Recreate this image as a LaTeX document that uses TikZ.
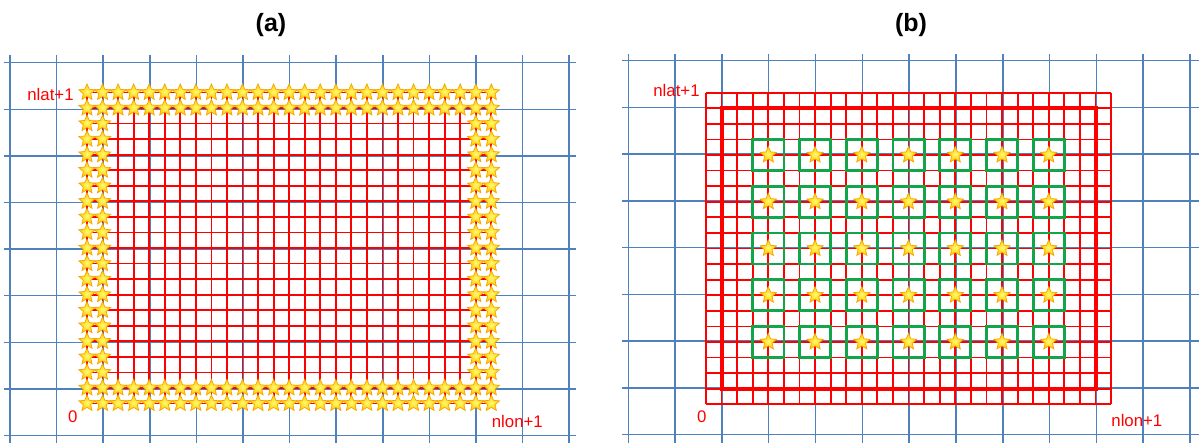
\documentclass[tikz,border=0pt]{standalone}
\usepackage{fontspec}
\setmainfont{Liberation Sans}
\usetikzlibrary{shapes.geometric}
\definecolor{gblue}{RGB}{79,129,189}
\definecolor{gred}{RGB}{255,0,0}
\definecolor{ggreen}{RGB}{20,165,75}
\definecolor{starin}{RGB}{255,250,110}
\definecolor{starout}{RGB}{255,200,0}
\definecolor{starline}{RGB}{245,165,0}
\begin{document}
\begin{tikzpicture}[x=0.5pt,y=-0.5pt,
 bluel/.style={gblue,line width=0.75pt},
 redl/.style={gred,line width=0.9pt},
 redthick/.style={gred,line width=2pt},
 greenbox/.style={ggreen,line width=1.4pt},
 gstar/.style={star,star points=5,star point ratio=2.2,minimum size=8.6pt,inner sep=0pt,draw=starline,line width=0.35pt,inner color=starin,outer color=starout},
 lbl/.style={text=gred,font=\fontsize{8.4}{10}\selectfont,inner sep=0pt},
 ttl/.style={font=\fontsize{12.5}{15}\selectfont\bfseries,inner sep=0pt}]
\useasboundingbox (0,0) rectangle (1199,443);

% ---------- titles
\node[ttl] (ta) at (271,25) {(a)};
\node[ttl] (tb) at (911,25) {(b)};

% ================= panel (a)
\foreach \k in {0,...,12}
  \draw[bluel] ({10+46.6*\k},55) -- ({10+46.6*\k},445);
\foreach \k in {0,...,8}
  \draw[bluel] (4,{62.7+46.6*\k}) -- (576,{62.7+46.6*\k});
\def\ax{87}\def\ay{92.5}\def\as{15.55}
\foreach \i in {0,...,26}
  \draw[redl] ({\ax+\i*\as},\ay) -- ({\ax+\i*\as},{\ay+20*\as});
\foreach \j in {0,...,20}
  \draw[redl] (\ax,{\ay+\j*\as}) -- ({\ax+26*\as},{\ay+\j*\as});
\foreach \i in {0,...,26}{
  \foreach \j in {0,...,20}{
    \pgfmathtruncatemacro\edg{or(or(\i<2,\i>24),or(\j<2,\j>18))}
    \ifnum\edg=1
      \node[gstar] (sa-\i-\j) at ({\ax+\i*\as},{\ay+\j*\as}) {};
    \fi
  }
}
\node[lbl,anchor=east] (la1) at (74,94) {nlat+1};
\node[lbl] (la0) at (72.7,417) {0};
\node[lbl,anchor=west] (la2) at (491.5,421) {nlon+1};

% ================= panel (b)
\foreach \k in {0,...,12}
  \draw[bluel] ({628.3+46.81*\k},54) -- ({628.3+46.81*\k},445);
\foreach \k in {0,...,8}
  \draw[bluel] (622,{60.7+46.75*\k}) -- (1201,{60.7+46.75*\k});
\def\bx{706}\def\by{92.7}\def\bs{15.58}
\foreach \i in {0,...,26}
  \draw[redl] ({\bx+\i*\bs},\by) -- ({\bx+\i*\bs},{\by+20*\bs});
\foreach \j in {0,...,20}
  \draw[redl] (\bx,{\by+\j*\bs}) -- ({\bx+26*\bs},{\by+\j*\bs});
\draw[redthick] ({\bx+\bs},{\by+\bs}) rectangle ({\bx+25*\bs},{\by+19*\bs});
\foreach \i in {4,7,...,22}{
  \foreach \j in {4,7,...,16}{
    \draw[greenbox] ({\bx+(\i-1)*\bs},{\by+(\j-1)*\bs}) rectangle ({\bx+(\i+1)*\bs},{\by+(\j+1)*\bs});
    \node[gstar] (sb-\i-\j) at ({\bx+\i*\bs},{\by+\j*\bs}) {};
  }
}
\node[lbl,anchor=east] (lb1) at (700,90.5) {nlat+1};
\node[lbl] (lb0) at (701.7,417) {0};
\node[lbl,anchor=west] (lb2) at (1111,420) {nlon+1};
\end{tikzpicture}
\end{document}
